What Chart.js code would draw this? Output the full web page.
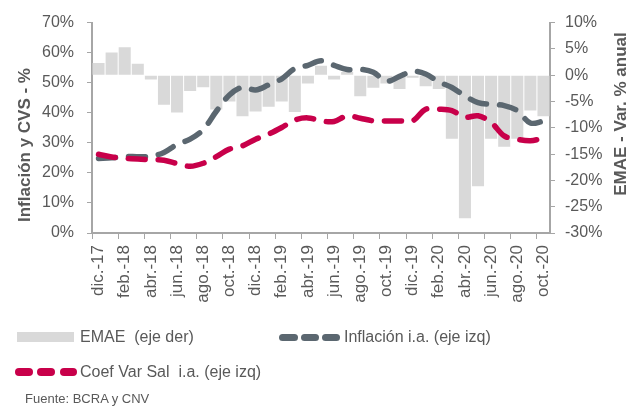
<!DOCTYPE html>
<html>
<head>
<meta charset="utf-8">
<script src="https://cdn.jsdelivr.net/npm/chart.js@4"></script>
<style>
  body { margin: 0; background: #fff; }
  #wrap { position: relative; width: 630px; height: 406px; font-family: "Liberation Sans", Arial, sans-serif; color: #595959; }
  canvas { position: absolute; left: 0; top: 0; }
  .txt { position: absolute; font-size: 16px; line-height: 20px; white-space: pre; }
  .sw { position: absolute; }
  .pill { position: absolute; border-radius: 4px; }
</style>
</head>
<body>
<div id="wrap">
  <canvas id="chart" width="630" height="406"></canvas>
  <div class="sw" style="left:17px;top:332px;width:57px;height:10px;background:#d9d9d9"></div>
  <div class="txt" style="left:80px;top:327px">EMAE  (eje der)</div>
  <div class="pill" style="left:279px;top:334px;width:19px;height:7px;background:#5b6770"></div>
  <div class="pill" style="left:301px;top:334px;width:18px;height:7px;background:#5b6770"></div>
  <div class="pill" style="left:322px;top:334px;width:18px;height:7px;background:#5b6770"></div>
  <div class="txt" style="left:344px;top:327px">Inflación i.a. (eje izq)</div>
  <div class="pill" style="left:15px;top:368px;width:18px;height:8px;background:#c8004a"></div>
  <div class="pill" style="left:37px;top:368px;width:18px;height:8px;background:#c8004a"></div>
  <div class="pill" style="left:60px;top:368px;width:17px;height:8px;background:#c8004a"></div>
  <div class="txt" style="left:80px;top:362px">Coef Var Sal  i.a. (eje izq)</div>
  <div class="txt" style="left:25px;top:391px;font-size:13px;line-height:16px">Fuente: BCRA y CNV</div>
</div>
<script>
// months dic-17 .. oct-20
var months = ['dic.-17','ene.-18','feb.-18','mar.-18','abr.-18','may.-18','jun.-18','jul.-18','ago.-18','sep.-18','oct.-18','nov.-18',
  'dic.-18','ene.-19','feb.-19','mar.-19','abr.-19','may.-19','jun.-19','jul.-19','ago.-19','sep.-19','oct.-19','nov.-19',
  'dic.-19','ene.-20','feb.-20','mar.-20','abr.-20','may.-20','jun.-20','jul.-20','ago.-20','sep.-20','oct.-20'];

// EMAE var % anual (eje der)
var emae = [2.3, 4.3, 5.3, 2.2, -0.8, -5.6, -7.1, -3.0, -2.3, -6.5, -5.0, -7.8,
  -6.9, -6.0, -5.0, -7.0, -1.6, 1.8, -0.8, 0.6, -4.0, -2.4, -1.6, -2.6,
  -0.5, -2.1, -2.6, -12.1, -27.2, -21.1, -12.1, -13.6, -12.1, -6.7, -7.8];

// inflacion i.a. (eje izq)
var inflacion = [24.8, 25.0, 25.4, 25.4, 25.5, 26.8, 29.5, 31.2, 34.4, 40.5, 45.9, 48.5,
  47.6, 49.3, 51.3, 54.7, 55.8, 57.3, 55.8, 54.4, 54.5, 53.5, 50.5, 52.1,
  53.8, 52.9, 50.3, 48.4, 45.6, 43.4, 42.8, 42.4, 40.7, 36.6, 37.2];

// coef var salarial i.a. (eje izq)
var coefSal = [26.2, 25.3, 24.9, 24.6, 24.4, 24.2, 23.1, 22.2, 23.2, 25.4, 27.9, 29.0,
  31.2, 32.9, 35.1, 37.6, 38.3, 37.3, 37.1, 39.0, 38.2, 37.3, 37.3, 37.3,
  37.3, 41.2, 41.2, 40.7, 38.5, 39.0, 36.8, 32.3, 31.2, 30.7, 31.6];

var axisGray = '#a6a6a6';
var txtGray = '#595959';

// axis titles, both read bottom-up
var axisTitles = {
  id: 'axisTitles',
  afterDraw: function(chart){
    var c = chart.ctx;
    c.save();
    c.fillStyle = txtGray;
    c.font = 'bold 17px "Liberation Sans", Arial';
    c.textAlign = 'center';
    c.textBaseline = 'middle';
    c.translate(25, 145);
    c.rotate(-Math.PI/2);
    c.fillText('Inflación y CVS - %', 0, 0);
    c.restore();
    c.save();
    c.fillStyle = txtGray;
    c.font = 'bold 17px "Liberation Sans", Arial';
    c.textAlign = 'center';
    c.textBaseline = 'middle';
    c.translate(621, 114);
    c.rotate(-Math.PI/2);
    c.fillText('EMAE - Var. % anual', 0, 0);
    c.restore();
  }
};

var ctx = document.getElementById('chart').getContext('2d');
var chart = new Chart(ctx, {
  data: {
    labels: months,
    datasets: [{
      type: 'line',
      label: 'Coef Var Sal  i.a. (eje izq)',
      data: coefSal,
      yAxisID: 'y',
      borderColor: '#c8004a',
      borderWidth: 5.5,
      borderDash: [17, 13],
      borderCapStyle: 'round',
      pointRadius: 0,
      tension: 0.35,
      order: 1
    },{
      type: 'line',
      label: 'Inflación i.a. (eje izq)',
      data: inflacion,
      yAxisID: 'y',
      borderColor: '#5b6770',
      borderWidth: 5.5,
      borderDash: [17, 13],
      borderCapStyle: 'round',
      pointRadius: 0,
      tension: 0.35,
      order: 2
    },{
      type: 'bar',
      label: 'EMAE  (eje der)',
      data: emae,
      yAxisID: 'y1',
      backgroundColor: '#d9d9d9',
      barPercentage: 0.92,
      categoryPercentage: 1,
      order: 3
    }]
  },
  options: {
    responsive: false,
    animation: false,
    layout: { padding: { top: 22, left: 0, right: 0, bottom: 0 } },
    plugins: { legend: { display: false }, tooltip: { enabled: false } },
    scales: {
      x: {
        offset: true,
        afterFit: function(s){ s.height = 406 - 233; },
        border: { color: axisGray, width: 2 },
        grid: {
          drawOnChartArea: false,
          tickLength: 6,
          offset: true,
          tickColor: function(c){ return c.index % 2 === 0 ? axisGray : 'rgba(0,0,0,0)'; }
        },
        ticks: {
          autoSkip: false,
          maxRotation: 90,
          minRotation: 90,
          padding: 6,
          color: txtGray,
          font: { family: '"Liberation Sans", Arial', size: 17 },
          callback: function(v, i){ return i % 2 === 0 ? months[i] : ''; }
        }
      },
      y: {
        position: 'left',
        min: 0, max: 70,
        afterFit: function(s){ s.width = 92; },
        border: { color: axisGray, width: 2 },
        grid: { drawOnChartArea: false, tickLength: 5, tickColor: axisGray },
        ticks: {
          stepSize: 10,
          padding: 13,
          color: txtGray,
          font: { family: '"Liberation Sans", Arial', size: 16 },
          callback: function(v){ return v + '%'; }
        }
      },
      y1: {
        position: 'right',
        min: -30, max: 10,
        afterFit: function(s){ s.width = 80; },
        border: { color: axisGray, width: 2 },
        grid: { drawOnChartArea: false, tickLength: 5, tickColor: axisGray },
        ticks: {
          stepSize: 5,
          padding: 10,
          color: txtGray,
          font: { family: '"Liberation Sans", Arial', size: 16 },
          callback: function(v){ return v + '%'; }
        }
      }
    }
  },
  plugins: [axisTitles]
});
</script>
</body>
</html>
